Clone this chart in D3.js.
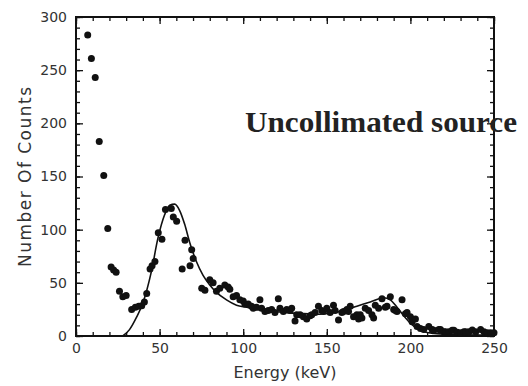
<!DOCTYPE html>
<html>
<head>
<meta charset="utf-8">
<script src="https://cdn.jsdelivr.net/npm/d3@7"></script>
<style>
  body { margin: 0; background: #fff; }
  text { font-family: "DejaVu Sans", sans-serif; }
</style>
</head>
<body>
<div id="chart"></div>
<script>
const width = 528
const height = 386
const margin = {top: 17, right: 34, bottom: 50, left: 76}

// measured counts (energy keV, counts)
const energy = [7, 9.2, 11.5, 13.9, 16.6, 19, 21, 22.5, 24, 26, 28, 30, 33.3, 35.5, 37.5, 39.3, 40.9, 42.3, 44.3, 45.5,
  47.2, 49.2, 51.4, 53.5, 57, 58.2, 60.2, 63.5, 65.2, 68.2, 69.2, 70.1, 75.2, 77.1, 80, 82, 84, 86, 89, 91,
  92, 94, 96, 98, 100, 101, 103, 105, 106, 108, 110, 111, 113, 115, 117, 119, 121, 122, 124, 126,
  128, 129, 131, 132, 134, 136, 138, 140, 141, 143, 145, 147, 148, 150, 152, 154, 155, 157, 159, 160,
  162, 163, 164, 166, 168, 169, 170, 171, 173, 175, 177, 178, 179, 181, 183, 185, 186, 188, 190, 191,
  192, 195, 197, 198, 200, 201, 203, 204, 206, 208, 211, 213, 214, 217, 218, 220, 221, 223, 225, 226,
  228, 230, 232, 233, 235, 237, 239, 242, 244, 246, 248, 250]
const counts = [283, 261, 243, 183, 151, 101, 65, 62, 60, 42, 37, 38, 25, 27, 28, 28.5, 32, 40, 63, 66,
  70, 97, 91, 119, 120, 112, 108, 63, 90, 66, 81, 73, 45, 43, 53, 50, 42, 45, 48, 46,
  44, 37, 38, 34, 33, 30, 30, 28, 26, 27, 34, 26, 23, 24, 25, 22, 35, 26, 23, 25,
  24, 26, 14, 20, 20, 18, 16, 19, 20, 22, 28, 24, 23, 26, 22, 29, 24, 15, 22, 23,
  25, 23, 28, 18, 20, 16, 20, 17, 26, 24, 20, 17, 29, 26, 35, 27, 28, 37, 25, 24,
  23, 34, 21, 22, 18, 13.5, 16, 9, 7, 6, 9, 6, 5.5, 6, 6, 4, 4, 4, 5.5, 5.5,
  3.5, 3, 4, 4, 4, 5.6, 4, 6, 4, 3, 3, 3]

// fitted curve
const fitEnergy = [28, 32, 36, 40, 45, 49, 53, 56, 59, 62, 65, 68, 72, 76, 80, 84, 90, 96, 102, 108,
  115, 126, 136, 146, 154, 160, 168, 176, 184, 188, 192, 196, 200, 204, 208, 214, 225, 240, 250]
const fitCounts = [0, 6, 17, 31, 60, 92, 114, 123, 124, 118, 105, 88, 70, 57, 48, 41, 34, 29, 27, 25,
  23.5, 22, 21, 20.5, 22, 24, 28, 32, 36, 34, 27, 19, 12, 7, 4, 2.5, 1.5, 1, 1]

const xTicks = [0, 50, 100, 150, 200, 250]
const yTicks = [0, 50, 100, 150, 200, 250, 300]

let svg = d3.select("#chart")
            .append("svg")
            .attr("width", width)
            .attr("height", height)

let x = d3.scaleLinear().domain([0, 250]).range([margin.left, width - margin.right])
let y = d3.scaleLinear().domain([0, 300]).range([height - margin.bottom, margin.top])

const minorX = d3.range(0, 251, 10)
const minorY = d3.range(0, 301, 10)

function styleAxis(g) {
  g.select(".domain").remove()
  g.selectAll("line").attr("stroke", "#111").attr("stroke-width", 1.3)
  g.selectAll("text").attr("fill", "#333").style("font-size", "14px")
}

// minor ticks, all four sides, pointing in
svg.append("g").attr("transform", `translate(0,${y(0)})`)
   .call(d3.axisTop(x).tickValues(minorX).tickSize(4).tickFormat("")).call(styleAxis)
svg.append("g").attr("transform", `translate(0,${y(300)})`)
   .call(d3.axisBottom(x).tickValues(minorX).tickSize(4).tickFormat("")).call(styleAxis)
svg.append("g").attr("transform", `translate(${x(0)},0)`)
   .call(d3.axisRight(y).tickValues(minorY).tickSize(4).tickFormat("")).call(styleAxis)
svg.append("g").attr("transform", `translate(${x(250)},0)`)
   .call(d3.axisLeft(y).tickValues(minorY).tickSize(4).tickFormat("")).call(styleAxis)

// major ticks
svg.append("g").attr("transform", `translate(0,${y(300)})`)
   .call(d3.axisBottom(x).tickValues(xTicks).tickSize(7).tickFormat("")).call(styleAxis)
svg.append("g").attr("transform", `translate(${x(250)},0)`)
   .call(d3.axisLeft(y).tickValues(yTicks).tickSize(7).tickFormat("")).call(styleAxis)

let xAxis = svg.append("g").attr("transform", `translate(0,${y(0)})`)
   .call(d3.axisTop(x).tickValues(xTicks).tickSize(7).tickFormat(d3.format("d"))).call(styleAxis)
xAxis.selectAll("text").attr("y", 12).attr("dy", "0.35em")

let yAxis = svg.append("g").attr("transform", `translate(${x(0)},0)`)
   .call(d3.axisRight(y).tickValues(yTicks).tickSize(7).tickFormat(d3.format("d"))).call(styleAxis)
yAxis.selectAll("text").attr("x", -9).attr("text-anchor", "end")

// frame
svg.append("rect")
   .attr("x", x(0))
   .attr("y", y(300))
   .attr("width", x(250) - x(0))
   .attr("height", y(0) - y(300))
   .attr("fill", "none")
   .attr("stroke", "#111")
   .attr("stroke-width", 2)

// fit line
let line = d3.line()
  .x(function(d, i) { return x(fitEnergy[i]) })
  .y(function(d, i) { return y(fitCounts[i]) })
  .curve(d3.curveMonotoneX)

svg.append("path")
   .datum(fitEnergy)
   .attr("d", line)
   .attr("fill", "none")
   .attr("stroke", "#111")
   .attr("stroke-width", 1.6)

// data points
svg.append("g")
   .selectAll("circle")
   .data(energy)
   .enter()
   .append("circle")
   .attr("cx", function(d) { return x(d) })
   .attr("cy", function(d, i) { return y(counts[i]) })
   .attr("r", 3.5)
   .attr("fill", "#111")

// titles
svg.append("text")
   .attr("x", (x(0) + x(250)) / 2)
   .attr("y", 378)
   .attr("text-anchor", "middle")
   .attr("fill", "#333")
   .style("font-size", "16px")
   .text("Energy (keV)")

svg.append("text")
   .attr("transform", "translate(31,177) rotate(-90)")
   .attr("text-anchor", "middle")
   .attr("fill", "#333")
   .attr("textLength", 180)
   .attr("lengthAdjust", "spacing")
   .style("font-size", "17px")
   .text("Number Of Counts")

svg.append("text")
   .attr("x", 245)
   .attr("y", 132)
   .attr("fill", "#222")
   .attr("textLength", 272)
   .attr("lengthAdjust", "spacingAndGlyphs")
   .style("font-family", "'Liberation Serif', serif")
   .style("font-weight", "bold")
   .style("font-size", "30px")
   .text("Uncollimated source")
</script>
</body>
</html>
